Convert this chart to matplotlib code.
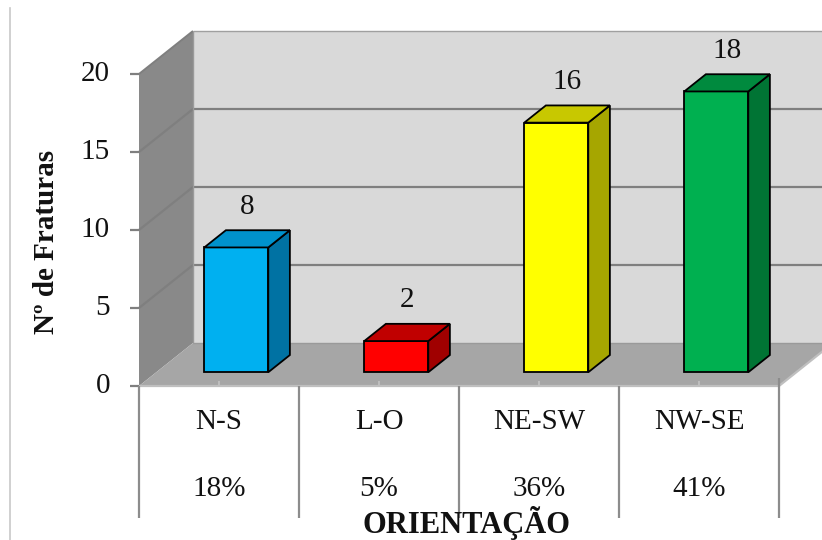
import matplotlib
matplotlib.use("Agg")
import matplotlib.pyplot as plt
from matplotlib.patches import Polygon
from matplotlib.lines import Line2D

# --- data ---
categories = ["N-S", "L-O", "NE-SW", "NW-SE"]
counts = [8, 2, 16, 18]
percent_labels = ["18%", "5%", "36%", "41%"]
y_ticks = [0, 5, 10, 15, 20]

front_colors = ["#00B0F0", "#FF0000", "#FFFF00", "#00B050"]
top_colors = ["#0092CC", "#C00000", "#C8C800", "#008A3E"]
side_colors = ["#0072A3", "#A00000", "#A6A600", "#007434"]

FONT = "Liberation Serif"
FS = 21

# --- figure / coordinate frame (x in category units, y in value units) ---
W, H, DPI = 822, 540, 100
fig = plt.figure(figsize=(W / DPI, H / DPI), dpi=DPI)
ax = fig.add_axes([0, 0, 1, 1])
ax.set_axis_off()

px_cat = 160.0      # pixels per category
px_val = 15.6       # pixels per value unit
x_origin_px = 139   # left edge of the floor
y_origin_px = 386   # value 0 on the front plane
x0 = -0.5
x1 = x0 + len(categories)
ax.set_xlim(x0 - x_origin_px / px_cat, x0 + (W - x_origin_px) / px_cat)
ax.set_ylim(-(H - y_origin_px) / px_val, y_origin_px / px_val)

# depth offsets (full depth of the plot box)
DX = 54 / px_cat
DY = 43 / px_val
vmax = max(y_ticks)


def P(x, v, d):
    return (x + d * DX, v + d * DY)


def poly(pts, fc, ec="none", lw=0, z=1):
    ax.add_patch(Polygon(pts, closed=True, facecolor=fc, edgecolor=ec,
                         linewidth=lw, zorder=z, joinstyle="miter"))


def line(xs, ys, c, lw=1.2, z=2):
    ax.add_line(Line2D(xs, ys, color=c, linewidth=lw, zorder=z,
                       solid_capstyle="butt"))


# walls and floor
poly([P(x0, 0, 1), P(x1, 0, 1), P(x1, vmax, 1), P(x0, vmax, 1)], "#D9D9D9")
poly([P(x0, 0, 0), P(x0, 0, 1), P(x0, vmax, 1), P(x0, vmax, 0)], "#898989")
poly([P(x0, 0, 0), P(x1, 0, 0), P(x1, 0, 1), P(x0, 0, 1)], "#A6A6A6")

# gridlines on side and back walls
for v in y_ticks[1:-1]:
    a, b, c = P(x0, v, 0), P(x0, v, 1), P(x1, v, 1)
    line([a[0], b[0], c[0]], [a[1], b[1], c[1]], "#7F7F7F", lw=1.6)
a, b, c = P(x0, vmax, 0), P(x0, vmax, 1), P(x1, vmax, 1)
line([a[0], b[0]], [a[1], b[1]], "#7F7F7F", lw=1.4)
line([b[0], c[0]], [b[1], c[1]], "#A0A0A0", lw=1.0)
a, b = P(x0, 0, 1), P(x0, vmax, 1)
line([a[0], b[0]], [a[1], b[1]], "#9A9A9A", lw=1.0)
# back floor edge
a, b = P(x0, 0, 1), P(x1, 0, 1)
line([a[0], b[0]], [a[1], b[1]], "#9A9A9A", lw=1.0)
# floor front and right edges
line([x0, x1], [0, 0], "#BFBFBF", lw=1.6)
a, b = P(x1, 0, 0), P(x1, 0, 1)
line([a[0], b[0]], [a[1], b[1]], "#BFBFBF", lw=1.6)

# value axis ticks and labels
tick_len = 9 / px_cat
for v in y_ticks:
    line([x0 - tick_len, x0], [v, v], "#7F7F7F", lw=1.6)
    ax.text(x0 - 29 / px_cat, v, str(v), ha="right", va="center",
            fontsize=FS, family=FONT, color="#111111")

# category table
table_bottom = -(518 - y_origin_px) / px_val
for k in range(len(categories) + 1):
    line([x0 + k, x0 + k], [0.5 if k == len(categories) else 0, table_bottom],
         "#8C8C8C", lw=1.6)
for i in range(len(categories)):
    line([i, i], [0, 5 / px_val], "#BFBFBF", lw=1.4, z=2)

row1 = -(422 - y_origin_px) / px_val
row2 = -(489 - y_origin_px) / px_val
for i, (cat, pct) in enumerate(zip(categories, percent_labels)):
    ax.text(i, row1, cat, ha="center", va="center", fontsize=FS,
            family=FONT, color="#111111")
    ax.text(i, row2, pct, ha="center", va="center", fontsize=FS,
            family=FONT, color="#111111")

# 3D bars
bar_w = 0.4
d_front, d_back = 0.32, 0.72
for i, v in enumerate(counts):
    xl, xr = i - bar_w / 2, i + bar_w / 2
    poly([P(xl, 0, d_front), P(xr, 0, d_front), P(xr, v, d_front), P(xl, v, d_front)],
         front_colors[i], "black", 1.3, z=5)
    poly([P(xr, 0, d_front), P(xr, 0, d_back), P(xr, v, d_back), P(xr, v, d_front)],
         side_colors[i], "black", 1.3, z=5)
    poly([P(xl, v, d_front), P(xr, v, d_front), P(xr, v, d_back), P(xl, v, d_back)],
         top_colors[i], "black", 1.3, z=5)
    cx, cy = P(i, v, (d_front + d_back) / 2)
    ax.annotate(str(v), (cx, cy), xytext=(0, 23), textcoords="offset points",
                ha="center", va="center", fontsize=FS,
                family=FONT, color="#111111", zorder=6)

# axis titles
ax.text(-1.36875 + 46 / px_cat, 20 - (241 - 73) / px_val, "Nº de Fraturas",
        rotation=90, ha="center", va="center", fontsize=FS, fontweight="bold",
        family=FONT, color="#111111")
ax.text(x0 + (466 - x_origin_px) / px_cat, -(533 - y_origin_px) / px_val,
        "ORIENTAÇÃO", ha="center", va="baseline", fontsize=22, fontweight="bold",
        family=FONT, color="#111111")

# chart frame edge
fig.add_artist(Line2D([10 / W, 10 / W], [0, 1 - 8 / H], color="#C8C8C8",
                      linewidth=1.2, transform=fig.transFigure))

fig.savefig("out.png", dpi=DPI)
